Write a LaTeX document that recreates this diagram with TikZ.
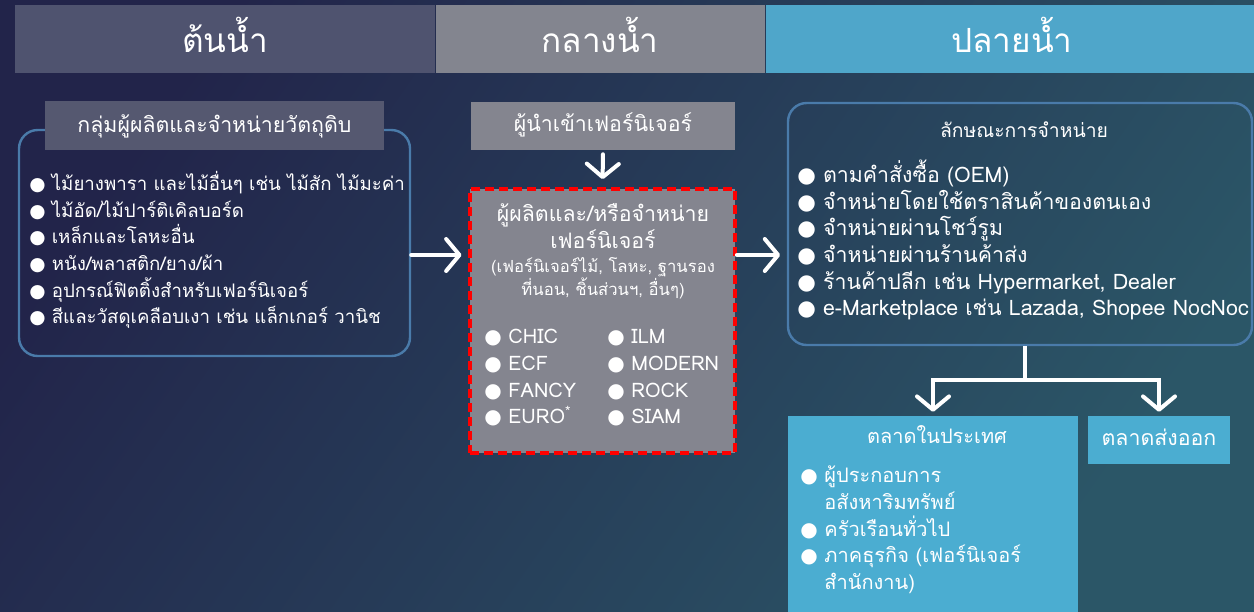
\documentclass[tikz,border=0pt]{standalone}
\usepackage{fontspec}
\usepackage{tikz}
\usetikzlibrary{positioning,fit,arrows.meta}
\setmainfont[Script=Thai]{Loma}
\newfontfamily\symfont{DejaVu Sans}
\newcommand{\bul}{{\symfont ●}\ }

\definecolor{bgA}{HTML}{22244A}
\definecolor{bgB}{HTML}{3C3F4B}
\definecolor{bgC}{HTML}{2B5667}
\definecolor{hdrA}{HTML}{4F536F}
\definecolor{hdrB}{HTML}{83858F}
\definecolor{hdrC}{HTML}{4FA6CA}
\definecolor{frameblue}{HTML}{4A7BAA}
\definecolor{titlegray}{HTML}{555870}
\definecolor{boxgray}{HTML}{84858F}
\definecolor{skyfill}{HTML}{4BADD1}

\tikzset{
  band/.style={inner sep=0pt},
  bandtxt/.style={anchor=base, inner sep=0pt, text=white, font=\fontsize{25}{30}\selectfont},
  panel/.style={draw=frameblue, line width=1.8pt, rounded corners=14pt, inner sep=0pt},
  lbl/.style={anchor=base, inner sep=0pt, text=white, font=\fontsize{16}{20}\selectfont},
  txt/.style={text=white, font=\fontsize{16}{20}\selectfont, align=left, inner sep=0pt},
  arr/.style={draw=white, line width=3pt, line cap=round, -{Straight Barb[length=10pt,width=24pt,round]}},
}

\begin{document}
\begin{tikzpicture}[x=0.75pt,y=0.75pt,yscale=-1,xscale=1]
\useasboundingbox (0,0) rectangle (1254,611);
\clip (0,0) rectangle (1254,611);

%Shape: Background
\shade [top color=bgA, middle color=bgB, bottom color=bgC, shading angle=55] (0,0) rectangle (1254,611);

%Shape: Header bands
\node [band, fill=hdrA, fit={(15,5) (435,73)}] (upband) {};
\node [band, fill=hdrB, fit={(436,5) (765,73)}] (midband) {};
\node [band, fill=hdrC, fit={(766,5) (1254,73)}] (downband) {};
% Text Node
\node [bandtxt] (uplbl) at (225,52) {ต้นน้ำ};
\node [bandtxt] (midlbl) at (600,52) {กลางน้ำ};
\node [bandtxt] (downlbl) at (1012,52) {ปลายน้ำ};

%Shape: Rounded Rectangle - raw material
\node [panel, fit={(19,130) (410,356)}] (rawbox) {};
\node [band, fill=titlegray, fit={(45,101) (384,150)}] (rawtitle) {};
% Text Node
\node [lbl] (rawlbl) at (rawtitle.center |- 0,132) {กลุ่มผู้ผลิตและจำหน่ายวัตถุดิบ};
\node [txt, anchor=west, font=\fontsize{14}{20}\selectfont] (rawlist) at (29,250) {\bul ไม้ยางพารา และไม้อื่นๆ เช่น ไม้สัก ไม้มะค่า\\
\bul ไม้อัด/ไม้ปาร์ติเคิลบอร์ด\\
\bul เหล็กและโลหะอื่น\\
\bul หนัง/พลาสติก/ยาง/ผ้า\\
\bul อุปกรณ์ฟิตติ้งสำหรับเฟอร์นิเจอร์\\
\bul สีและวัสดุเคลือบเงา เช่น แล็กเกอร์ วานิช};

%Shape: Rectangle - importer
\node [band, fill=boxgray, fit={(471,102) (735,150)}] (importer) {};
\node [lbl] (importlbl) at (importer.center |- 0,131) {ผู้นำเข้าเฟอร์นิเจอร์};

%Shape: Rectangle - maker
\node [inner sep=0pt, fill=boxgray, draw=red, line width=2.8pt, dash pattern=on 7pt off 3.5pt, fit={(470,189) (735,453)}] (maker) {};
% Text Node
\node [txt, align=center] (makertitle) at (603,226) {ผู้ผลิตและ/หรือจำหน่าย\\เฟอร์นิเจอร์};
\node [txt, align=center, font=\fontsize{12.5}{16}\selectfont] (makersub) at (603,278) {(เฟอร์นิเจอร์ไม้, โลหะ, ฐานรอง\\ที่นอน, ชิ้นส่วนฯ, อื่นๆ)};
\node [txt, anchor=west, font=\fontsize{15}{20}\selectfont] (brandA) at (484,378) {\bul CHIC\\ \bul ECF\\ \bul FANCY\\ \bul EURO\textsuperscript{*}};
\node [txt, anchor=west, font=\fontsize{15}{20}\selectfont] (brandB) at (607,378) {\bul ILM\\ \bul MODERN\\ \bul ROCK\\ \bul SIAM};

%Shape: Rounded Rectangle - sales
\node [panel, fit={(788,103) (1252,345)}] (salesbox) {};
% Text Node
\node [lbl, font=\fontsize{14.5}{20}\selectfont] (salestitle) at (1024,137) {ลักษณะการจำหน่าย};
\node [txt, anchor=west] (saleslist) at (797,240) {\bul ตามคำสั่งซื้อ (OEM)\\
\bul จำหน่ายโดยใช้ตราสินค้าของตนเอง\\
\bul จำหน่ายผ่านโชว์รูม\\
\bul จำหน่ายผ่านร้านค้าส่ง\\
\bul ร้านค้าปลีก เช่น Hypermarket, Dealer\\
\bul e-Marketplace เช่น Lazada, Shopee NocNoc};

%Shape: Rectangle - markets
\node [band, fill=skyfill, fit={(788,416) (1078,615)}] (domestic) {};
\node [lbl, font=\fontsize{15}{20}\selectfont] (domlbl) at (937,443) {ตลาดในประเทศ};
\node [txt, anchor=west, font=\fontsize{15}{20}\selectfont] (domlist) at (800,530) {\bul ผู้ประกอบการ\\
\phantom{\bul}อสังหาริมทรัพย์\\
\bul ครัวเรือนทั่วไป\\
\bul ภาคธุรกิจ (เฟอร์นิเจอร์\\
\phantom{\bul}สำนักงาน)};
\node [band, fill=skyfill, fit={(1088,416) (1230,464)}] (export) {};
\node [lbl] (exportlbl) at (export.center |- 0,445) {ตลาดส่งออก};

% Connectors
\coordinate (flowy) at (0,255);
\coordinate (split) at (1025,380);
\draw [arr, shorten >=5pt] (rawbox.east |- flowy) -- (maker.west |- flowy);
\draw [arr, shorten >=5pt] (maker.east |- flowy) -- (salesbox.west |- flowy);
\draw [arr, shorten <=3pt, shorten >=6pt] (importer.south) -- (maker.north);
\draw [white, line width=3pt] (salesbox.south -| split) -- (split);
\draw [arr, line cap=butt, shorten >=3pt] (split) -| (domestic.north);
\draw [arr, line cap=butt, shorten >=3pt] (split) -| (export.north);

\end{tikzpicture}
\end{document}
